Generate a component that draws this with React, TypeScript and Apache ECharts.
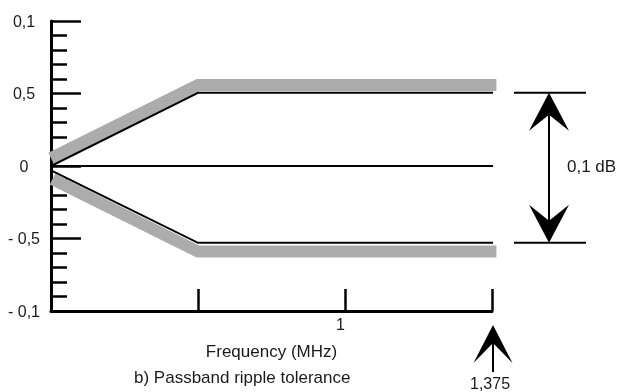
import React, { useEffect, useRef } from "react";
import * as echarts from "echarts";

// y tick labels (as printed on the reference)
const yTickValues = [10, 5, 0, -5, -10];
const yTickTexts = ["0,1", "0,5", "0", "- 0,5", "- 0,1"];
// x tick labels (schematic positions 0..3)
const xTickValues = [2];
const xTickTexts = ["1"];

// tolerance mask (schematic units)
const upperBand = [[0, 0.55], [1, 5.59], [3.03, 5.59]];
const lowerBand = [[0.01, -0.9], [1, -5.9], [3.03, -5.9]];
const upperLine = [[0, 0], [1, 5.05], [3.02, 5.05]];
const lowerLine = [[0, -0.3], [1, -5.3], [3.04, -5.3]];
const zeroLine = [[0, 0], [3.05, 0]];

const xAxisName = "Frequency (MHz)";
const captionText = "b) Passband ripple tolerance";
const rippleText = "0,1 dB";
const edgeText = "1,375";
const edgeValue = 3;

const FONT = "Liberation Sans, Arial, sans-serif";
const TEXT_COLOR = "#1a1a1a";
const GRAY = "#acacac";

function arrowHead(cx: number, tipY: number, dir: number, half: number, len: number, notch: number) {
  // dir = 1: points up (barbs below tip); dir = -1: points down
  return {
    type: "polygon",
    shape: {
      points: [
        [cx, tipY],
        [cx + half, tipY + dir * len],
        [cx, tipY + dir * notch],
        [cx - half, tipY + dir * len],
      ],
    },
    style: { fill: "#000" },
    silent: true,
  };
}

export default function App() {
  const ref = useRef<HTMLDivElement>(null);
  useEffect(() => {
    if (!ref.current) return;
    const chart = echarts.init(ref.current, undefined, { renderer: "svg" });
    const lineSeries = (data: number[][], color: string, width: number, z: number) => ({
      type: "line",
      data,
      symbol: "none",
      clip: false,
      z,
      silent: true,
      lineStyle: { color, width, cap: "butt", join: "miter" },
    });
    chart.setOption({
      animation: false,
      textStyle: { fontFamily: FONT, color: TEXT_COLOR },
      grid: { left: 51, right: 617 - 492, top: 21, bottom: 392 - 311, containLabel: false },
      title: {
        text: captionText,
        left: 134,
        top: 369,
        padding: 0,
        textStyle: { fontFamily: FONT, fontSize: 17, fontWeight: "normal", color: TEXT_COLOR },
      },
      xAxis: {
        type: "value",
        min: 0,
        max: 3,
        interval: 1,
        name: xAxisName,
        nameLocation: "middle",
        nameGap: 32,
        nameTextStyle: { fontFamily: FONT, fontSize: 17, color: TEXT_COLOR },
        axisLine: { show: true, onZero: false, lineStyle: { color: "#000", width: 3 } },
        axisTick: { show: true, inside: true, length: 22, lineStyle: { color: "#000", width: 2.5 } },
        splitLine: { show: false },
        axisLabel: {
          show: true,
          margin: 5,
          fontSize: 16,
          color: TEXT_COLOR,
          fontFamily: FONT,
          align: "right",
          formatter: (v: number) => {
            const i = xTickValues.indexOf(v);
            return i >= 0 ? xTickTexts[i] : "";
          },
        },
      },
      yAxis: {
        type: "value",
        min: -10,
        max: 10,
        interval: 5,
        axisLine: { show: true, lineStyle: { color: "#000", width: 3 } },
        axisTick: { show: true, inside: true, length: 30, lineStyle: { color: "#000", width: 2.5 } },
        minorTick: { show: true, splitNumber: 5, length: 16, lineStyle: { color: "#000", width: 2.5 } },
        splitLine: { show: false },
        minorSplitLine: { show: false },
        axisLabel: {
          show: true,
          margin: 27,
          align: "center",
          fontSize: 16,
          color: TEXT_COLOR,
          fontFamily: FONT,
          formatter: (v: number) => {
            const i = yTickValues.indexOf(v);
            return i >= 0 ? yTickTexts[i] : "";
          },
        },
      },
      series: [
        lineSeries(upperBand, GRAY, 12, 2),
        lineSeries(lowerBand, GRAY, 12, 2),
        lineSeries(upperLine, "#000", 2, 3),
        lineSeries(lowerLine, "#000", 2, 3),
        lineSeries(zeroLine, "#000", 2, 3),
      ],
    });

    const yTop = chart.convertToPixel({ yAxisIndex: 0 }, upperLine[2][1]) as number;
    const yBot = chart.convertToPixel({ yAxisIndex: 0 }, lowerLine[2][1]) as number;
    const yMid = chart.convertToPixel({ yAxisIndex: 0 }, 0) as number;
    const xEdge = chart.convertToPixel({ xAxisIndex: 0 }, edgeValue) as number;
    const xAxisY = chart.convertToPixel({ yAxisIndex: 0 }, -10) as number;

    const arrowX = 549;
    const edgeArrowTop = xAxisY + 14;
    chart.setOption({
      graphic: [
        { type: "line", shape: { x1: 514, y1: yTop, x2: 586, y2: yTop }, style: { stroke: "#000", lineWidth: 2 } },
        { type: "line", shape: { x1: 514, y1: yBot, x2: 586, y2: yBot }, style: { stroke: "#000", lineWidth: 2 } },
        { type: "line", shape: { x1: arrowX, y1: yTop + 10, x2: arrowX, y2: yBot - 10 }, style: { stroke: "#000", lineWidth: 2 } },
        arrowHead(arrowX, yTop, 1, 20, 38, 22),
        arrowHead(arrowX, yBot, -1, 20, 38, 22),
        {
          type: "text",
          x: 567,
          y: yMid,
          style: { text: rippleText, fontSize: 17, fontFamily: FONT, fill: TEXT_COLOR, textAlign: "left", textVerticalAlign: "middle" },
        },
        { type: "line", shape: { x1: xEdge + 1, y1: edgeArrowTop + 10, x2: xEdge + 1, y2: edgeArrowTop + 47 }, style: { stroke: "#000", lineWidth: 2 } },
        arrowHead(xEdge + 1, edgeArrowTop, 1, 19.5, 38, 18),
        {
          type: "text",
          x: xEdge - 2,
          y: 383,
          style: { text: edgeText, fontSize: 16, fontFamily: FONT, fill: TEXT_COLOR, textAlign: "center", textVerticalAlign: "middle" },
        },
      ],
    });

    return () => chart.dispose();
  }, []);
  return <div ref={ref} style={{ position: "fixed", left: 0, top: 0, width: 617, height: 392 }} />;
}
